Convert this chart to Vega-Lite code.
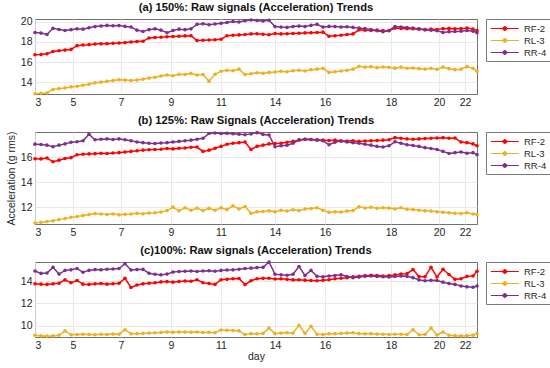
{
"$schema": "https://vega.github.io/schema/vega-lite/v6.json",
"background": "white",
"padding": {"left": 5, "top": 1, "right": 0, "bottom": 0},
"datasets": {
"a": [
{"i":0,"RF-2":16.72,"RL-3":12.88,"RR-4":18.92},{"i":3,"RF-2":16.75,"RL-3":12.92,"RR-4":18.86},{"i":6,"RF-2":16.82,"RL-3":12.95,"RR-4":18.72},{"i":9,"RF-2":17.05,"RL-3":13.3,"RR-4":19.33},{"i":12,"RF-2":17.12,"RL-3":13.38,"RR-4":19.22},{"i":15,"RF-2":17.18,"RL-3":13.45,"RR-4":19.12},{"i":18,"RF-2":17.25,"RL-3":13.55,"RR-4":19.2},{"i":21,"RF-2":17.62,"RL-3":13.62,"RR-4":19.28},{"i":24,"RF-2":17.68,"RL-3":13.72,"RR-4":19.25},{"i":27,"RF-2":17.72,"RL-3":13.82,"RR-4":19.38},{"i":30,"RF-2":17.78,"RL-3":13.95,"RR-4":19.5},{"i":33,"RF-2":17.8,"RL-3":14.02,"RR-4":19.56},{"i":36,"RF-2":17.82,"RL-3":14.1,"RR-4":19.62},{"i":39,"RF-2":17.85,"RL-3":14.18,"RR-4":19.58},{"i":42,"RF-2":17.88,"RL-3":14.25,"RR-4":19.6},{"i":45,"RF-2":17.92,"RL-3":14.22,"RR-4":19.52},{"i":48,"RF-2":17.98,"RL-3":14.18,"RR-4":19.46},{"i":51,"RF-2":18.02,"RL-3":14.22,"RR-4":19.15},{"i":54,"RF-2":18.05,"RL-3":14.3,"RR-4":19.02},{"i":57,"RF-2":18.38,"RL-3":14.42,"RR-4":19.2},{"i":60,"RF-2":18.42,"RL-3":14.5,"RR-4":19.28},{"i":63,"RF-2":18.45,"RL-3":14.62,"RR-4":19.15},{"i":66,"RF-2":18.5,"RL-3":14.72,"RR-4":18.9},{"i":69,"RF-2":18.52,"RL-3":14.65,"RR-4":19.12},{"i":72,"RF-2":18.55,"RL-3":14.8,"RR-4":19.25},{"i":75,"RF-2":18.58,"RL-3":14.78,"RR-4":19.2},{"i":78,"RF-2":18.6,"RL-3":14.88,"RR-4":19.28},{"i":81,"RF-2":18.12,"RL-3":14.72,"RR-4":19.72},{"i":84,"RF-2":18.15,"RL-3":14.78,"RR-4":19.78},{"i":87,"RF-2":18.18,"RL-3":14.12,"RR-4":19.68},{"i":90,"RF-2":18.2,"RL-3":14.8,"RR-4":19.75},{"i":93,"RF-2":18.25,"RL-3":15.1,"RR-4":19.82},{"i":96,"RF-2":18.6,"RL-3":15.2,"RR-4":19.9},{"i":99,"RF-2":18.65,"RL-3":15.15,"RR-4":20.0},{"i":102,"RF-2":18.68,"RL-3":15.3,"RR-4":19.95},{"i":105,"RF-2":18.72,"RL-3":14.78,"RR-4":20.08},{"i":108,"RF-2":18.78,"RL-3":14.85,"RR-4":20.15},{"i":111,"RF-2":18.8,"RL-3":14.95,"RR-4":20.1},{"i":114,"RF-2":18.75,"RL-3":14.9,"RR-4":20.05},{"i":117,"RF-2":18.7,"RL-3":14.98,"RR-4":20.12},{"i":120,"RF-2":18.82,"RL-3":15.02,"RR-4":19.5},{"i":123,"RF-2":18.78,"RL-3":15.1,"RR-4":19.45},{"i":126,"RF-2":18.8,"RL-3":15.05,"RR-4":19.42},{"i":129,"RF-2":18.82,"RL-3":15.15,"RR-4":19.5},{"i":132,"RF-2":18.85,"RL-3":15.2,"RR-4":19.55},{"i":135,"RF-2":18.88,"RL-3":15.12,"RR-4":19.5},{"i":138,"RF-2":18.9,"RL-3":15.25,"RR-4":19.62},{"i":141,"RF-2":18.92,"RL-3":15.3,"RR-4":19.72},{"i":144,"RF-2":18.95,"RL-3":15.38,"RR-4":19.45},{"i":147,"RF-2":18.55,"RL-3":14.98,"RR-4":19.52},{"i":150,"RF-2":18.6,"RL-3":15.05,"RR-4":19.5},{"i":153,"RF-2":18.65,"RL-3":15.12,"RR-4":19.45},{"i":156,"RF-2":18.72,"RL-3":15.2,"RR-4":19.48},{"i":159,"RF-2":18.78,"RL-3":15.3,"RR-4":19.42},{"i":162,"RF-2":19.18,"RL-3":15.58,"RR-4":19.35},{"i":165,"RF-2":19.15,"RL-3":15.5,"RR-4":19.3},{"i":168,"RF-2":19.12,"RL-3":15.55,"RR-4":19.22},{"i":171,"RF-2":19.15,"RL-3":15.45,"RR-4":19.1},{"i":174,"RF-2":19.1,"RL-3":15.52,"RR-4":19.0},{"i":177,"RF-2":19.1,"RL-3":15.48,"RR-4":19.12},{"i":180,"RF-2":19.35,"RL-3":15.4,"RR-4":19.5},{"i":183,"RF-2":19.32,"RL-3":15.5,"RR-4":19.45},{"i":186,"RF-2":19.3,"RL-3":15.38,"RR-4":19.4},{"i":189,"RF-2":19.28,"RL-3":15.42,"RR-4":19.35},{"i":192,"RF-2":19.25,"RL-3":15.35,"RR-4":19.28},{"i":195,"RF-2":19.2,"RL-3":15.3,"RR-4":19.2},{"i":198,"RF-2":19.25,"RL-3":15.38,"RR-4":19.15},{"i":201,"RF-2":19.22,"RL-3":15.28,"RR-4":19.1},{"i":204,"RF-2":19.3,"RL-3":15.5,"RR-4":18.92},{"i":207,"RF-2":19.32,"RL-3":15.35,"RR-4":19.0},{"i":210,"RF-2":19.28,"RL-3":15.25,"RR-4":19.02},{"i":213,"RF-2":19.3,"RL-3":15.3,"RR-4":19.05},{"i":216,"RF-2":19.35,"RL-3":15.55,"RR-4":19.12},{"i":219,"RF-2":19.25,"RL-3":15.38,"RR-4":19.05},{"i":221,"RF-2":19.1,"RL-3":15.1,"RR-4":18.9}
],
"b": [
{"i":0,"RF-2":15.86,"RL-3":10.72,"RR-4":17.03},{"i":3,"RF-2":15.85,"RL-3":10.78,"RR-4":17.0},{"i":6,"RF-2":15.92,"RL-3":10.85,"RR-4":16.95},{"i":9,"RF-2":15.62,"RL-3":10.9,"RR-4":16.82},{"i":12,"RF-2":15.75,"RL-3":11.0,"RR-4":16.95},{"i":15,"RF-2":15.88,"RL-3":11.08,"RR-4":17.05},{"i":18,"RF-2":15.95,"RL-3":11.18,"RR-4":17.18},{"i":21,"RF-2":16.18,"RL-3":11.25,"RR-4":17.22},{"i":24,"RF-2":16.22,"RL-3":11.32,"RR-4":17.3},{"i":27,"RF-2":16.25,"RL-3":11.4,"RR-4":17.82},{"i":30,"RF-2":16.27,"RL-3":11.48,"RR-4":17.38},{"i":33,"RF-2":16.3,"RL-3":11.45,"RR-4":17.42},{"i":36,"RF-2":16.28,"RL-3":11.4,"RR-4":17.45},{"i":39,"RF-2":16.32,"RL-3":11.45,"RR-4":17.4},{"i":42,"RF-2":16.35,"RL-3":11.38,"RR-4":17.45},{"i":45,"RF-2":16.4,"RL-3":11.42,"RR-4":17.38},{"i":48,"RF-2":16.45,"RL-3":11.45,"RR-4":17.3},{"i":51,"RF-2":16.5,"RL-3":11.5,"RR-4":17.2},{"i":54,"RF-2":16.55,"RL-3":11.46,"RR-4":17.15},{"i":57,"RF-2":16.58,"RL-3":11.52,"RR-4":17.1},{"i":60,"RF-2":16.6,"RL-3":11.55,"RR-4":17.08},{"i":63,"RF-2":16.62,"RL-3":11.6,"RR-4":17.12},{"i":66,"RF-2":16.68,"RL-3":11.72,"RR-4":17.15},{"i":69,"RF-2":16.65,"RL-3":12.0,"RR-4":17.2},{"i":72,"RF-2":16.7,"RL-3":11.7,"RR-4":17.25},{"i":75,"RF-2":16.72,"RL-3":11.95,"RR-4":17.3},{"i":78,"RF-2":16.78,"RL-3":11.75,"RR-4":17.35},{"i":81,"RF-2":16.8,"RL-3":11.92,"RR-4":17.42},{"i":84,"RF-2":16.45,"RL-3":11.72,"RR-4":17.5},{"i":87,"RF-2":16.55,"RL-3":11.9,"RR-4":17.88},{"i":90,"RF-2":16.7,"RL-3":11.75,"RR-4":17.92},{"i":93,"RF-2":16.85,"RL-3":11.95,"RR-4":17.88},{"i":96,"RF-2":17.02,"RL-3":11.8,"RR-4":17.9},{"i":99,"RF-2":17.1,"RL-3":12.1,"RR-4":17.86},{"i":102,"RF-2":17.15,"RL-3":11.85,"RR-4":17.82},{"i":105,"RF-2":17.2,"RL-3":12.05,"RR-4":17.78},{"i":108,"RF-2":16.6,"RL-3":11.5,"RR-4":17.85},{"i":111,"RF-2":16.85,"RL-3":11.62,"RR-4":17.95},{"i":114,"RF-2":16.95,"RL-3":11.65,"RR-4":17.8},{"i":117,"RF-2":17.05,"RL-3":11.7,"RR-4":17.76},{"i":120,"RF-2":17.08,"RL-3":11.62,"RR-4":16.82},{"i":123,"RF-2":17.1,"RL-3":11.75,"RR-4":16.9},{"i":126,"RF-2":17.18,"RL-3":11.68,"RR-4":16.95},{"i":129,"RF-2":17.25,"RL-3":11.78,"RR-4":17.1},{"i":132,"RF-2":17.35,"RL-3":11.72,"RR-4":17.38},{"i":135,"RF-2":17.42,"RL-3":11.85,"RR-4":17.42},{"i":138,"RF-2":17.4,"RL-3":11.88,"RR-4":17.4},{"i":141,"RF-2":17.38,"RL-3":11.95,"RR-4":17.35},{"i":144,"RF-2":17.35,"RL-3":11.75,"RR-4":17.3},{"i":147,"RF-2":17.32,"RL-3":11.58,"RR-4":16.98},{"i":150,"RF-2":17.35,"RL-3":11.62,"RR-4":17.18},{"i":153,"RF-2":17.3,"RL-3":11.6,"RR-4":17.27},{"i":156,"RF-2":17.28,"RL-3":11.68,"RR-4":17.2},{"i":159,"RF-2":17.3,"RL-3":11.72,"RR-4":17.15},{"i":162,"RF-2":17.25,"RL-3":12.02,"RR-4":17.1},{"i":165,"RF-2":17.28,"RL-3":11.92,"RR-4":17.02},{"i":168,"RF-2":17.3,"RL-3":11.98,"RR-4":16.95},{"i":171,"RF-2":17.32,"RL-3":11.9,"RR-4":16.85},{"i":174,"RF-2":17.35,"RL-3":11.95,"RR-4":16.8},{"i":177,"RF-2":17.38,"RL-3":11.92,"RR-4":16.9},{"i":180,"RF-2":17.55,"RL-3":11.85,"RR-4":17.22},{"i":183,"RF-2":17.5,"RL-3":11.95,"RR-4":17.1},{"i":186,"RF-2":17.45,"RL-3":11.82,"RR-4":16.98},{"i":189,"RF-2":17.42,"RL-3":11.8,"RR-4":16.92},{"i":192,"RF-2":17.45,"RL-3":11.75,"RR-4":16.85},{"i":195,"RF-2":17.48,"RL-3":11.7,"RR-4":16.75},{"i":198,"RF-2":17.5,"RL-3":11.68,"RR-4":16.68},{"i":201,"RF-2":17.52,"RL-3":11.62,"RR-4":16.6},{"i":204,"RF-2":17.55,"RL-3":11.58,"RR-4":16.45},{"i":207,"RF-2":17.5,"RL-3":11.55,"RR-4":16.28},{"i":210,"RF-2":17.52,"RL-3":11.5,"RR-4":16.35},{"i":213,"RF-2":17.2,"RL-3":11.48,"RR-4":16.4},{"i":216,"RF-2":17.15,"RL-3":11.55,"RR-4":16.3},{"i":219,"RF-2":17.05,"RL-3":11.45,"RR-4":16.35},{"i":221,"RF-2":16.9,"RL-3":11.4,"RR-4":16.19}
],
"c": [
{"i":0,"RF-2":13.76,"RL-3":9.15,"RR-4":14.9},{"i":3,"RF-2":13.72,"RL-3":9.1,"RR-4":14.68},{"i":6,"RF-2":13.7,"RL-3":9.08,"RR-4":14.72},{"i":9,"RF-2":13.75,"RL-3":9.1,"RR-4":15.22},{"i":12,"RF-2":13.8,"RL-3":9.15,"RR-4":14.62},{"i":15,"RF-2":14.1,"RL-3":9.55,"RR-4":14.95},{"i":18,"RF-2":13.85,"RL-3":9.2,"RR-4":15.0},{"i":21,"RF-2":14.05,"RL-3":9.22,"RR-4":15.12},{"i":24,"RF-2":13.72,"RL-3":9.25,"RR-4":14.78},{"i":27,"RF-2":13.7,"RL-3":9.22,"RR-4":14.95},{"i":30,"RF-2":13.75,"RL-3":9.2,"RR-4":15.02},{"i":33,"RF-2":13.78,"RL-3":9.24,"RR-4":15.0},{"i":36,"RF-2":13.72,"RL-3":9.22,"RR-4":15.05},{"i":39,"RF-2":13.76,"RL-3":9.26,"RR-4":15.08},{"i":42,"RF-2":13.8,"RL-3":9.25,"RR-4":15.12},{"i":45,"RF-2":14.24,"RL-3":9.65,"RR-4":15.55},{"i":48,"RF-2":13.42,"RL-3":9.28,"RR-4":14.98},{"i":51,"RF-2":13.65,"RL-3":9.3,"RR-4":15.02},{"i":54,"RF-2":13.75,"RL-3":9.32,"RR-4":15.04},{"i":57,"RF-2":13.8,"RL-3":9.35,"RR-4":14.7},{"i":60,"RF-2":13.85,"RL-3":9.38,"RR-4":14.6},{"i":63,"RF-2":13.92,"RL-3":9.4,"RR-4":14.55},{"i":66,"RF-2":13.95,"RL-3":9.45,"RR-4":14.62},{"i":69,"RF-2":13.9,"RL-3":9.42,"RR-4":14.8},{"i":72,"RF-2":13.95,"RL-3":9.44,"RR-4":14.85},{"i":75,"RF-2":14.0,"RL-3":9.45,"RR-4":14.88},{"i":78,"RF-2":13.98,"RL-3":9.42,"RR-4":14.9},{"i":81,"RF-2":14.12,"RL-3":9.45,"RR-4":14.85},{"i":84,"RF-2":13.85,"RL-3":9.4,"RR-4":14.9},{"i":87,"RF-2":13.78,"RL-3":9.42,"RR-4":14.92},{"i":90,"RF-2":13.7,"RL-3":9.38,"RR-4":14.88},{"i":93,"RF-2":14.12,"RL-3":9.62,"RR-4":14.95},{"i":96,"RF-2":14.15,"RL-3":9.6,"RR-4":14.98},{"i":99,"RF-2":14.2,"RL-3":9.58,"RR-4":15.0},{"i":102,"RF-2":14.22,"RL-3":9.55,"RR-4":15.05},{"i":105,"RF-2":13.68,"RL-3":9.22,"RR-4":15.12},{"i":108,"RF-2":14.02,"RL-3":9.3,"RR-4":15.15},{"i":111,"RF-2":14.2,"RL-3":9.28,"RR-4":15.2},{"i":114,"RF-2":14.24,"RL-3":9.32,"RR-4":15.22},{"i":117,"RF-2":14.25,"RL-3":9.8,"RR-4":15.7},{"i":120,"RF-2":14.18,"RL-3":9.3,"RR-4":14.6},{"i":123,"RF-2":14.2,"RL-3":9.35,"RR-4":14.55},{"i":126,"RF-2":14.15,"RL-3":9.38,"RR-4":14.52},{"i":129,"RF-2":14.1,"RL-3":9.35,"RR-4":14.6},{"i":132,"RF-2":14.12,"RL-3":10.05,"RR-4":15.3},{"i":135,"RF-2":14.08,"RL-3":9.32,"RR-4":14.5},{"i":138,"RF-2":14.05,"RL-3":9.95,"RR-4":14.95},{"i":141,"RF-2":14.02,"RL-3":9.25,"RR-4":14.42},{"i":144,"RF-2":14.08,"RL-3":9.22,"RR-4":14.38},{"i":147,"RF-2":14.12,"RL-3":9.28,"RR-4":14.45},{"i":150,"RF-2":14.2,"RL-3":9.3,"RR-4":14.5},{"i":153,"RF-2":14.25,"RL-3":9.32,"RR-4":14.55},{"i":156,"RF-2":14.3,"RL-3":9.35,"RR-4":14.4},{"i":159,"RF-2":14.38,"RL-3":9.38,"RR-4":14.3},{"i":162,"RF-2":14.42,"RL-3":9.3,"RR-4":14.35},{"i":165,"RF-2":14.48,"RL-3":9.28,"RR-4":14.42},{"i":168,"RF-2":14.52,"RL-3":9.3,"RR-4":14.45},{"i":171,"RF-2":14.5,"RL-3":9.26,"RR-4":14.4},{"i":174,"RF-2":14.45,"RL-3":9.24,"RR-4":14.38},{"i":177,"RF-2":14.48,"RL-3":9.22,"RR-4":14.36},{"i":180,"RF-2":14.55,"RL-3":9.25,"RR-4":14.4},{"i":183,"RF-2":14.62,"RL-3":9.24,"RR-4":14.45},{"i":186,"RF-2":14.66,"RL-3":9.22,"RR-4":14.42},{"i":189,"RF-2":15.02,"RL-3":9.65,"RR-4":14.3},{"i":192,"RF-2":14.4,"RL-3":9.2,"RR-4":14.1},{"i":195,"RF-2":14.38,"RL-3":9.22,"RR-4":14.02},{"i":198,"RF-2":15.22,"RL-3":9.8,"RR-4":14.06},{"i":201,"RF-2":14.36,"RL-3":9.18,"RR-4":14.05},{"i":204,"RF-2":15.05,"RL-3":9.45,"RR-4":13.9},{"i":207,"RF-2":14.58,"RL-3":9.15,"RR-4":13.78},{"i":210,"RF-2":14.15,"RL-3":9.12,"RR-4":13.7},{"i":213,"RF-2":14.2,"RL-3":9.1,"RR-4":13.55},{"i":216,"RF-2":14.42,"RL-3":9.12,"RR-4":13.48},{"i":219,"RF-2":14.45,"RL-3":9.15,"RR-4":13.45},{"i":221,"RF-2":14.88,"RL-3":9.3,"RR-4":13.55}
]
},
"bounds": "flush",
"spacing": 38,
"resolve": {"scale": {"color": "independent", "x": "independent", "y": "independent"}, "legend": {"color": "independent"}},
"vconcat": [
{
"data": {"name": "a"},
"transform": [{"fold": ["RF-2", "RL-3", "RR-4"], "as": ["sensor", "acc"]}],
"title": "(a) 150%: Raw signals (Acceleration) Trends",
"width": 442, "height": 75,
"mark": {"type": "line", "strokeWidth": 1.5, "point": {"filled": true, "size": 13}},
"encoding": {
"x": {"field": "i", "type": "quantitative", "scale": {"domain": [0, 221], "nice": false, "zero": false},
"axis": {"title": null, "values": [0,19,43,68,93,120,145,178,202,215], "labelExpr": "['3','5','7','9','11','14','16','18','20','22'][indexof([0,19,43,68,93,120,145,178,202,215], datum.value)]"}},
"y": {"field": "acc", "type": "quantitative", "scale": {"domain": [12.85, 20.25], "nice": false, "zero": false}, "axis": {"title": null, "values": [14, 16, 18, 20]}},
"color": {"field": "sensor", "type": "nominal", "scale": {"domain": ["RF-2", "RL-3", "RR-4"], "range": ["#FF0000", "#EDB120", "#7E2F8E"]}, "legend": {"title": null}}
}
},
{
"data": {"name": "b"},
"transform": [{"fold": ["RF-2", "RL-3", "RR-4"], "as": ["sensor", "acc"]}],
"title": "(b) 125%: Raw Signals (Acceleration) Trends",
"width": 442, "height": 92,
"mark": {"type": "line", "strokeWidth": 1.5, "point": {"filled": true, "size": 13}},
"encoding": {
"x": {"field": "i", "type": "quantitative", "scale": {"domain": [0, 221], "nice": false, "zero": false},
"axis": {"title": null, "values": [0,19,43,68,93,120,145,178,202,215], "labelExpr": "['3','5','7','9','11','14','16','18','20','22'][indexof([0,19,43,68,93,120,145,178,202,215], datum.value)]"}},
"y": {"field": "acc", "type": "quantitative", "scale": {"domain": [10.65, 18.0], "nice": false, "zero": false}, "axis": {"title": "Acceleration (g rms)", "values": [12, 14, 16]}},
"color": {"field": "sensor", "type": "nominal", "scale": {"domain": ["RF-2", "RL-3", "RR-4"], "range": ["#FF0000", "#EDB120", "#7E2F8E"]}, "legend": {"title": null}}
}
},
{
"data": {"name": "c"},
"transform": [{"fold": ["RF-2", "RL-3", "RR-4"], "as": ["sensor", "acc"]}],
"title": "(c)100%: Raw signals (Acceleration) Trends",
"width": 442, "height": 75,
"mark": {"type": "line", "strokeWidth": 1.5, "point": {"filled": true, "size": 13}},
"encoding": {
"x": {"field": "i", "type": "quantitative", "scale": {"domain": [0, 221], "nice": false, "zero": false},
"axis": {"title": "day", "titlePadding": 1, "values": [0,19,43,68,93,120,145,178,202,215], "labelExpr": "['3','5','7','9','11','14','16','18','20','22'][indexof([0,19,43,68,93,120,145,178,202,215], datum.value)]"}},
"y": {"field": "acc", "type": "quantitative", "scale": {"domain": [9.0, 15.7], "nice": false, "zero": false}, "axis": {"title": null, "values": [10, 12, 14]}},
"color": {"field": "sensor", "type": "nominal", "scale": {"domain": ["RF-2", "RL-3", "RR-4"], "range": ["#FF0000", "#EDB120", "#7E2F8E"]}, "legend": {"title": null}}
}
}
],
"config": {
"font": "Liberation Sans",
"view": {"stroke": "#707070", "strokeWidth": 1},
"title": {"font": "Liberation Sans", "fontSize": 11.2, "fontWeight": "bold", "color": "#111111", "offset": 3},
"axis": {"labelFont": "Liberation Sans", "labelFontSize": 10.5, "labelColor": "#262626", "grid": true, "gridColor": "#e3e3e3", "gridWidth": 0.8, "domain": false, "ticks": false, "labelPadding": 3, "titleFont": "Liberation Sans", "titleFontSize": 10.5, "titleFontWeight": "normal", "titleColor": "#262626", "titlePadding": 4},
"legend": {"orient": "right", "offset": 6, "strokeColor": "#7a7a7a", "fillColor": "white", "padding": 4, "labelFont": "Liberation Sans", "labelFontSize": 9.5, "labelColor": "#262626", "rowPadding": 2, "symbolType": "M-1,0L5,0M1.57,0A0.43,0.43,0,1,1,2.43,0A0.43,0.43,0,1,1,1.57,0Z", "symbolSize": 87, "symbolStrokeWidth": 1, "labelOffset": 23}
}
}
